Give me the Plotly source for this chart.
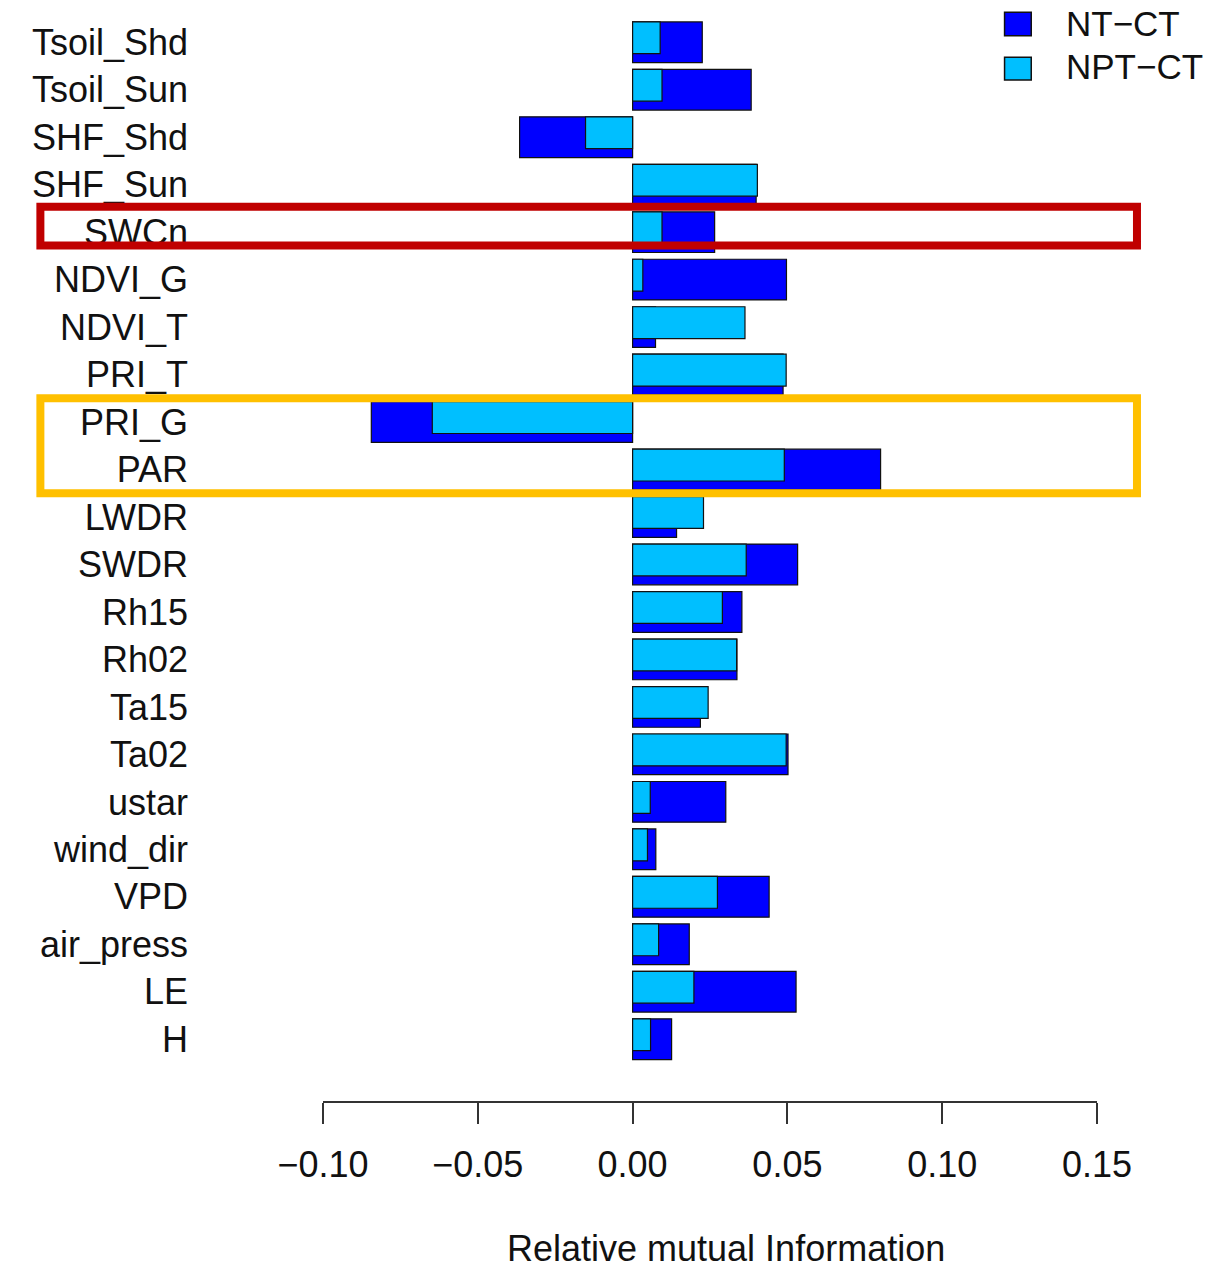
import plotly.graph_objects as go

# Variables (top to bottom) and relative mutual information differences
variables = ["Tsoil_Shd", "Tsoil_Sun", "SHF_Shd", "SHF_Sun", "SWCn", "NDVI_G",
             "NDVI_T", "PRI_T", "PRI_G", "PAR", "LWDR", "SWDR", "Rh15", "Rh02",
             "Ta15", "Ta02", "ustar", "wind_dir", "VPD", "air_press", "LE", "H"]
nt_ct = [0.0225, 0.0383, -0.0365, 0.0399, 0.0265, 0.0497, 0.0074, 0.0486,
         -0.0844, 0.0801, 0.0142, 0.0533, 0.0353, 0.0337, 0.0219, 0.0502,
         0.0301, 0.0075, 0.0441, 0.0183, 0.0528, 0.0126]
npt_ct = [0.0089, 0.0095, -0.0152, 0.0403, 0.0095, 0.0033, 0.0363, 0.0496,
          -0.0647, 0.0490, 0.0229, 0.0367, 0.0290, 0.0336, 0.0244, 0.0496,
          0.0057, 0.0048, 0.0274, 0.0084, 0.0198, 0.0058]
series_names = ["NT\u2212CT", "NPT\u2212CT"]
series_colors = ["#0000FF", "#00BFFF"]
x_ticks = [-0.10, -0.05, 0.00, 0.05, 0.10, 0.15]

W, H = 1222, 1271
ML, MR, MT, MB = 323, 124.5, 5, 170
PW, PH = W - ML - MR, H - MT - MB
FONT = "Liberation Sans, Arial, sans-serif"


def px_x(p):
    return (p - ML) / PW


def px_y(p):
    return (H - MB - p) / PH


fig = go.Figure()
fig.add_trace(go.Bar(
    y=variables, x=nt_ct, orientation="h", name=series_names[0],
    width=0.857, offset=-0.43,
    marker=dict(color=series_colors[0], line=dict(color="#111111", width=1.2)),
    showlegend=False,
))
fig.add_trace(go.Bar(
    y=variables, x=npt_ct, orientation="h", name=series_names[1],
    width=0.67, offset=-0.43,
    marker=dict(color=series_colors[1], line=dict(color="#111111", width=1.2)),
    showlegend=False,
))

shapes = []
annotations = []

# legend (top right)
legend_rows = [(12.3, 35.7, 23.9), (57.3, 80.0, 66.7)]
for (top, bot, text_y), name, col in zip(legend_rows, series_names, series_colors):
    shapes.append(dict(type="rect", xref="paper", yref="paper",
                       x0=px_x(1005), x1=px_x(1031.7), y0=px_y(bot), y1=px_y(top),
                       fillcolor=col, line=dict(color="#111111", width=1.5)))
    annotations.append(dict(text=name, xref="paper", yref="paper",
                            x=px_x(1064), y=px_y(text_y),
                            xanchor="left", yanchor="middle", showarrow=False,
                            font=dict(family=FONT, size=35, color="#111111")))

# highlight boxes
for (top, bot), col in [((206.7, 245.5), "#C00000"), ((398.3, 493.2), "#FFC000")]:
    shapes.append(dict(type="rect", xref="paper", yref="paper", layer="above",
                       x0=px_x(40.2), x1=px_x(1137.5), y0=px_y(bot), y1=px_y(top),
                       line=dict(color=col, width=8)))

# x-axis title
annotations.append(dict(text="Relative mutual Information", xref="paper", yref="paper",
                        x=px_x(726.5), y=px_y(1271), xanchor="center", yanchor="bottom",
                        showarrow=False, font=dict(family=FONT, size=36, color="#111111")))

fig.update_layout(
    width=W, height=H, barmode="overlay",
    margin=dict(l=ML, r=MR, t=MT, b=MB, pad=0),
    paper_bgcolor="white", plot_bgcolor="white",
    font=dict(family=FONT, size=36, color="#111111"),
    shapes=shapes, annotations=annotations,
    xaxis=dict(range=[-0.10, 0.15], tickvals=x_ticks, tickformat=".2f",
               showgrid=False, zeroline=False, showline=True,
               linecolor="#333333", linewidth=1.5,
               ticks="outside", ticklen=21, tickwidth=1.5, tickcolor="#333333",
               ticklabelstandoff=10,
               tickfont=dict(family=FONT, size=36, color="#111111")),
    yaxis=dict(type="category", categoryorder="array", categoryarray=variables,
               range=[22.3, -0.786], showgrid=False, zeroline=False, showline=False,
               ticks="", ticklabelstandoff=134,
               tickfont=dict(family=FONT, size=36, color="#111111")),
)

fig.write_html("out.html")
